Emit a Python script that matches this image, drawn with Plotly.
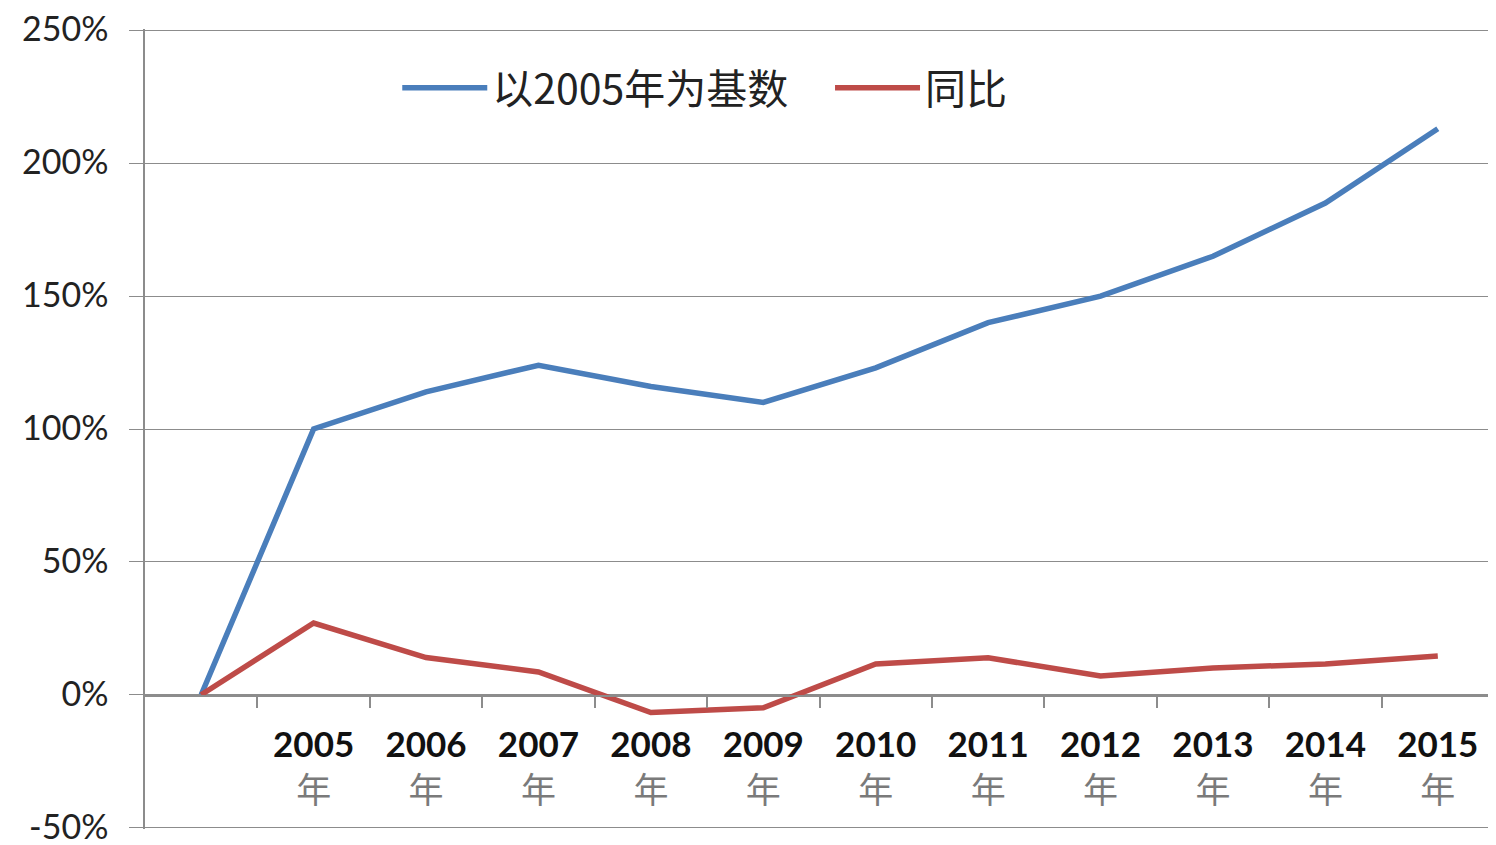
import plotly.graph_objects as go

# categories (first slot is the unlabeled base point)
categories = ["", "2005年", "2006年", "2007年", "2008年", "2009年", "2010年",
              "2011年", "2012年", "2013年", "2014年", "2015年"]

# values in percent
base_2005 = [0, 100, 114, 124, 116, 110, 123, 140, 150, 165, 185, 213]
yoy = [0, 27, 14, 8.6, -6.7, -4.9, 11.6, 13.9, 7.1, 10.1, 11.6, 14.6]

y_ticks = [-50, 0, 50, 100, 150, 200, 250]
y_labels = ["-50%", "0%", "50%", "100%", "150%", "200%", "250%"]

x = list(range(len(categories)))

def tick_label(c):
    if not c:
        return ""
    return "<b>%s</b><br><span style='color:#7a7a7a'>%s</span>" % (c[:-1], c[-1])

nb = "\u00a0" * 4
fig = go.Figure()
fig.add_trace(go.Scatter(x=x, y=base_2005, mode="lines", name="以2005年为基数" + nb,
                         line=dict(color="#4A7EBB", width=5.5)))
fig.add_trace(go.Scatter(x=x, y=yoy, mode="lines", name="同比",
                         line=dict(color="#BE4B48", width=5.5)))

grid = "#8c8c8c"
# page body has an 8px margin, so the figure is sized to fit inside it
fig.update_layout(
    width=1488, height=837,
    margin=dict(l=137, r=2, t=21, b=16),
    plot_bgcolor="white", paper_bgcolor="white",
    font=dict(family="Lato, 'Noto Sans CJK SC', sans-serif", color="#222222"),
    showlegend=True,
    legend=dict(orientation="h", x=0.187, y=0.926, xanchor="left", yanchor="middle",
                font=dict(size=41, family="'Noto Sans CJK SC', Lato, sans-serif", color="#222"),
                itemwidth=85, bgcolor="rgba(0,0,0,0)"),
    xaxis=dict(
        range=[-0.5, len(categories) - 0.5], automargin=False,
        tickvals=x[1:], ticktext=[tick_label(c) for c in categories[1:]],
        ticks="", showgrid=False, zeroline=False,
        showline=True, linecolor=grid, linewidth=1.5,
        anchor="free", position=50 / 300, ticklabelstandoff=19,
        tickfont=dict(size=35, color="#111"),
        minor=dict(tickvals=[i + 0.5 for i in x], ticks="outside", ticklen=12,
                   tickcolor=grid, tickwidth=1.5, showgrid=False),
    ),
    yaxis=dict(
        range=[-50.5, 250.5], automargin=False,
        tickvals=y_ticks, ticktext=y_labels, ticklabeloverflow="allow",
        ticklabelshift=-1,
        showgrid=True, gridcolor=grid, gridwidth=1.2,
        zeroline=False, showline=True, linecolor=grid, linewidth=1.5,
        ticks="outside", ticklen=14, tickcolor=grid, ticklabelstandoff=14,
        tickfont=dict(size=34, color="#222"),
    ),
)

fig.write_html("out.html")
